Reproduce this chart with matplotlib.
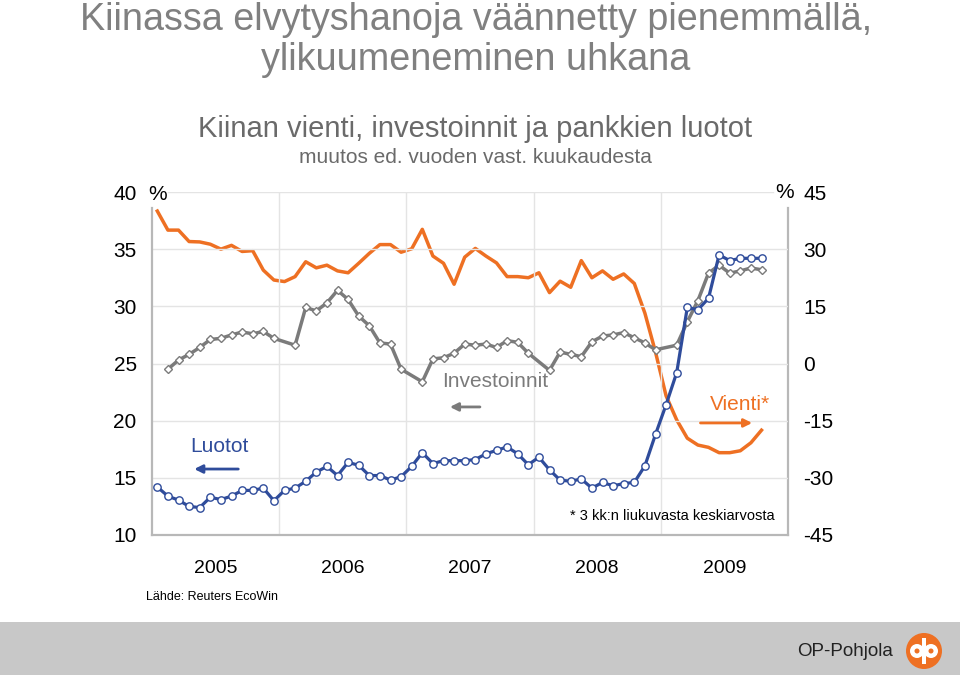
import matplotlib
matplotlib.use('Agg')
import matplotlib.pyplot as plt
from matplotlib.patches import Rectangle, Ellipse
import numpy as np

plt.rcParams['font.family'] = ['Liberation Sans', 'DejaVu Sans']

# monthly data, Jan 2005 .. Oct 2009
years = ['2005', '2006', '2007', '2008', '2009']
left_ticks = [10, 15, 20, 25, 30, 35, 40]
right_ticks = [-45, -30, -15, 0, 15, 30, 45]

luotot = [14.2, 13.4, 13.05, 12.5, 12.4, 13.3, 13.1, 13.4, 13.9, 13.9, 14.1, 13.0,
          13.9, 14.1, 14.7, 15.5, 16.0, 15.2, 16.35, 16.1, 15.2, 15.2, 14.8, 15.1,
          16.0, 17.2, 16.25, 16.5, 16.5, 16.5, 16.6, 17.1, 17.4, 17.7, 17.1, 16.15,
          16.8, 15.7, 14.8, 14.7, 14.9, 14.1, 14.6, 14.3, 14.5, 14.6, 16.05, 18.8,
          21.4, 24.2, 29.9, 29.7, 30.7, 34.5, 34.0, 34.2, 34.2, 34.2]

# investments: no January figure (Jan-Feb reported together)
invest_months = [1, 2, 3, 4, 5, 6, 7, 8, 9, 10, 11,
                 13, 14, 15, 16, 17, 18, 19, 20, 21, 22, 23,
                 25, 26, 27, 28, 29, 30, 31, 32, 33, 34, 35,
                 37, 38, 39, 40, 41, 42, 43, 44, 45, 46, 47,
                 49, 50, 51, 52, 53, 54, 55, 56, 57]
investoinnit = [24.5, 25.3, 25.8, 26.4, 27.1, 27.2, 27.5, 27.75, 27.6, 27.8, 27.2,
                26.6, 29.9, 29.6, 30.3, 31.4, 30.6, 29.15, 28.3, 26.8, 26.7, 24.5,
                23.4, 25.4, 25.5, 25.9, 26.7, 26.6, 26.7, 26.4, 27.0, 26.85, 25.9,
                24.4, 26.0, 25.8, 25.6, 26.9, 27.4, 27.5, 27.7, 27.25, 26.8, 26.2,
                26.6, 28.65, 30.5, 32.9, 33.6, 32.9, 33.1, 33.35, 33.2]

vienti = [40.0, 35.0, 35.0, 32.0, 31.9, 31.3, 30.0, 31.0, 29.4, 29.6, 24.5, 21.9,
          21.5, 22.8, 26.7, 25.1, 25.8, 24.3, 23.8, 26.3, 28.9, 31.2, 31.2, 29.2,
          30.1, 35.2, 28.2, 26.3, 20.8, 27.9, 30.2, 28.2, 26.4, 22.8, 22.8, 22.5,
          23.8, 18.6, 21.6, 20.0, 27.0, 22.5, 24.3, 22.1, 23.5, 21.0, 13.2, 3.0,
          -8.5, -14.8, -19.6, -21.4, -22.0, -23.4, -23.4, -22.9, -20.8, -17.5]

BLUE = '#2f4c9b'
ORANGE = '#ee7023'
GRAY = '#7b7b7b'
GRID = '#e4e4e4'
SPINE = '#b8b8b8'

def to_x(m):
    return 2005 + (np.asarray(m) + 0.5) / 12.0

W, H = 960, 675
fig = plt.figure(figsize=(W / 100, H / 100), dpi=100)
ax = fig.add_axes([152 / W, 1 - 535 / H, 636 / W, 343 / H])
ax2 = ax.twinx()

ax.set_xlim(2005, 2010)
ax.set_ylim(10, 40)
ax2.set_ylim(-45, 45)

# grid
for v in left_ticks[1:-1]:
    ax.axhline(v, color=GRID, lw=1, zorder=0)
ax.axhline(40, xmin=0.025, xmax=0.976, color=GRID, lw=1, zorder=0)
ax.set_xticks([2006, 2007, 2008, 2009], minor=True)
ax.grid(which='minor', axis='x', color=GRID, lw=1)
ax.set_axisbelow(True)

# series
ax.plot(to_x(invest_months), investoinnit, color=GRAY, lw=2.5, marker='D', ms=4.2,
        mfc='white', mec=GRAY, mew=1, zorder=3)
ax2.plot(to_x(np.arange(len(vienti))), vienti, color=ORANGE, lw=2.5, zorder=4)
ax.plot(to_x(np.arange(len(luotot))), luotot, color=BLUE, lw=2.3, marker='o', ms=5.3,
        mfc='white', mec=BLUE, mew=1, zorder=5)
ax.set_zorder(ax2.get_zorder() + 1)
ax.patch.set_visible(False)

# ticks
ax.set_xticks([y + 0.5 for y in range(2005, 2010)])
ax.set_xticklabels(years, fontsize=14)
ax.tick_params(axis='x', which='both', length=0, pad=18)
ax.set_yticks(left_ticks)
ax.set_yticklabels([str(t) for t in left_ticks], fontsize=15)
ax.tick_params(axis='y', length=0, pad=11)
ax2.set_yticks(right_ticks)
ax2.set_yticklabels([str(t) for t in right_ticks], fontsize=15)
ax2.tick_params(axis='y', length=0, pad=11)

for a in (ax, ax2):
    for s in a.spines.values():
        s.set_visible(False)
ax.spines['left'].set_visible(True)
ax.spines['left'].set_bounds(10, 38.6)
ax.spines['bottom'].set_visible(True)
ax2.spines['right'].set_visible(True)
ax2.spines['right'].set_bounds(-45, 40.8)
for s in (ax.spines['left'], ax.spines['bottom'], ax2.spines['right']):
    s.set_color(SPINE)
    s.set_linewidth(1.6)

# series labels with arrows
ax.text(2005.53, 17.7, 'Luotot', color=BLUE, fontsize=15, ha='center', va='center')
ax.annotate('', xy=(2005.31, 15.77), xytext=(2005.70, 15.77),
            arrowprops=dict(arrowstyle='-|>', color=BLUE, lw=2, mutation_scale=12))
ax.text(2007.70, 23.4, 'Investoinnit', color=GRAY, fontsize=15, ha='center', va='center')
ax.annotate('', xy=(2007.32, 21.2), xytext=(2007.60, 21.2),
            arrowprops=dict(arrowstyle='-|>', color=GRAY, lw=2, mutation_scale=12))
ax.text(2009.62, 21.4, 'Vienti*', color=ORANGE, fontsize=15, ha='center', va='center')
ax.annotate('', xy=(2009.74, 19.8), xytext=(2009.29, 19.8),
            arrowprops=dict(arrowstyle='-|>', color=ORANGE, lw=2, mutation_scale=12))
ax.text(2009.09, 11.65, '* 3 kk:n liukuvasta keskiarvosta', color='black',
        fontsize=10.5, ha='center', va='center')

# titles
def fx(px):
    return px / W

def fy(py):
    return 1 - py / H

fig.text(fx(476), fy(30), 'Kiinassa elvytyshanoja väännetty pienemmällä,', fontsize=27.2,
         color='#808080', ha='center', va='baseline')
fig.text(fx(476), fy(70), 'ylikuumeneminen uhkana', fontsize=27.2,
         color='#808080', ha='center', va='baseline')
fig.text(fx(475), fy(137), 'Kiinan vienti, investoinnit ja pankkien luotot', fontsize=21,
         color='#6a6a6a', ha='center', va='baseline')
fig.text(fx(475), fy(163), 'muutos ed. vuoden vast. kuukaudesta', fontsize=15,
         color='#6a6a6a', ha='center', va='baseline')
fig.text(fx(158), fy(195), '%', fontsize=15, ha='center', va='center')
fig.text(fx(785), fy(192), '%', fontsize=15, ha='center', va='center')
fig.text(fx(146), fy(597), 'Lähde: Reuters EcoWin', fontsize=9, ha='left', va='center')

# footer band with logo
fig.patches.append(Rectangle((0, 0), 1, 53 / H, transform=fig.transFigure,
                             facecolor='#c8c8c8', edgecolor='none', zorder=0))
fig.text(fx(845), fy(651), 'OP-Pohjola', fontsize=13.5, color='#222222', ha='center',
         va='center')
fig.patches.append(Ellipse((fx(924), fy(651)), 36 / W, 36 / H, transform=fig.transFigure,
                           facecolor=ORANGE, edgecolor='none'))
for dx in (-7, 7):
    fig.patches.append(Ellipse((fx(924 + dx), fy(651)), 14 / W, 14 / H,
                               transform=fig.transFigure, facecolor='white', edgecolor='none'))
    fig.patches.append(Ellipse((fx(924 + dx), fy(651)), 5 / W, 5 / H,
                               transform=fig.transFigure, facecolor=ORANGE, edgecolor='none'))
fig.patches.append(Rectangle((fx(922), fy(664)), 4 / W, 26 / H, transform=fig.transFigure,
                             facecolor='white', edgecolor='none'))

fig.savefig('out.png', dpi=100)
